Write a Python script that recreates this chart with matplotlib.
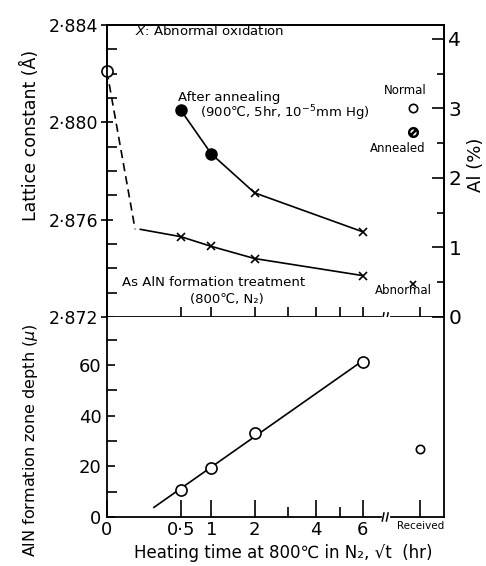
import numpy as np
import matplotlib
matplotlib.use("Agg")
import matplotlib.pyplot as plt

plt.rcParams['font.family'] = ['DejaVu Sans']

# ---------------- data ----------------
# x axis is sqrt(heating time in hr)
tick_hours = [0, 0.5, 1, 2, 3, 4, 5, 6]
tick_labels = ['0', '0·5', '1', '2', '', '4', '', '6']
received_pos = 3.0           # sqrt-scale position of the "Received" column
received_label = 'Received'

# Lattice constant (Å) – As AlN formation treatment (800°C, N2)
aln_hours = [0.5, 1, 2, 6]
aln_lattice = [2.8753, 2.8749, 2.8744, 2.8737]
# start of the solid line (no marker) and the dashed drop from the untreated value
aln_start_sqrt = 0.32
aln_start_lattice = 2.8756
dash_sqrt = [0.0, 0.27]
dash_lattice = [2.8821, 2.8756]
initial_lattice = 2.8821

# Lattice constant (Å) – After annealing (900°C, 5hr, 1e-5 mmHg)
ann_hours = [0.5, 1, 2, 6]
ann_lattice = [2.8805, 2.8787, 2.8771, 2.8755]
ann_filled = [True, True, False, False]   # False -> abnormal oxidation (x)

# Al (%) of received material
al_normal = 3.0
al_annealed = 2.66
al_abnormal = 0.48
al_pos = 2.93

# AlN formation zone depth (micron)
depth_hours = [0.5, 1, 2, 6]
depth_vals = [10.8, 19.2, 33.2, 61.2]
depth_received = 26.8
fit_start_sqrt = 0.45

# ---------------- figure ----------------
fig = plt.figure(figsize=(4.86, 5.66), dpi=100)
ax1 = fig.add_axes([0.220, 0.440, 0.694, 0.516])
ax2 = fig.add_axes([0.220, 0.0866, 0.694, 0.3534])
ax1r = ax1.twinx()

xmax = 3.23
brk_a, brk_b = 2.62, 2.72
for ax in (ax1, ax2):
    ax.set_xlim(0, xmax)
    for s in ax.spines.values():
        s.set_linewidth(1.3)

lw = 1.2
tick_pos = list(np.sqrt(tick_hours)) + [received_pos]

# ---- top panel ----
ax1.set_ylim(2.872, 2.884)
ax1r.set_ylim(0, 4.2)

ax1.plot(dash_sqrt, dash_lattice, '--', color='k', lw=lw, dashes=(5, 3))
ax1.plot([aln_start_sqrt] + list(np.sqrt(aln_hours)),
         [aln_start_lattice] + aln_lattice, '-', color='k', lw=lw)
ax1.plot(np.sqrt(aln_hours), aln_lattice, 'x', color='k', ms=6, mew=1.2)
ax1.plot([0], [initial_lattice], 'o', ms=8, mfc='white', mec='k', mew=1.2,
         clip_on=False, zorder=5)

ax1.plot(np.sqrt(ann_hours), ann_lattice, '-', color='k', lw=lw)
fx = [np.sqrt(h) for h, f in zip(ann_hours, ann_filled) if f]
fy = [v for v, f in zip(ann_lattice, ann_filled) if f]
xx = [np.sqrt(h) for h, f in zip(ann_hours, ann_filled) if not f]
xy = [v for v, f in zip(ann_lattice, ann_filled) if not f]
ax1.plot(fx, fy, 'o', color='k', ms=8)
ax1.plot(xx, xy, 'x', color='k', ms=6, mew=1.2)

ax1r.plot([al_pos], [al_normal], 'o', ms=6, mfc='white', mec='k', mew=1.2)
ax1r.plot([al_pos], [al_annealed], marker=r'$\oslash$', ms=7, color='k', ls='none')
ax1r.plot([al_pos], [al_abnormal], 'x', ms=4, mew=1.2, color='k')

# axes styling
ax1.set_yticks([2.872, 2.876, 2.880, 2.884])
ax1.set_yticklabels(['2·872', '2·876', '2·880', '2·884'], fontsize=12.5)
ax1.set_yticks(np.arange(2.872, 2.8845, 0.001), minor=True)
ax1.tick_params(axis='y', which='major', direction='inout', length=9, width=1.2, pad=2)
ax1.tick_params(axis='y', which='minor', direction='in', length=7, width=1.2)
ax1.set_xticks(tick_pos)
ax1.set_xticklabels([])
ax1.tick_params(axis='x', which='major', direction='in', length=7, width=1.2)
ax1.spines['bottom'].set_visible(False)

ax1r.set_yticks([0, 1, 2, 3, 4])
ax1r.set_yticklabels(['0', '1', '2', '3', '4'], fontsize=14.5)
ax1r.set_yticks(np.arange(0.5, 4.5, 1.0), minor=True)
ax1r.tick_params(axis='y', which='major', direction='in', length=9, width=1.2, pad=3)
ax1r.tick_params(axis='y', which='minor', direction='in', length=5, width=1.2)
ax1r.spines['bottom'].set_visible(False)
for s in ax1r.spines.values():
    s.set_linewidth(1.3)

# ---- bottom panel ----
ax2.set_ylim(0, 79)
ax2.plot(np.sqrt(depth_hours), depth_vals, 'o', ms=8, mfc='white', mec='k', mew=1.2,
         zorder=5, clip_on=False)
coef = np.polyfit(np.sqrt(depth_hours), depth_vals, 1)
fit_x = np.array([fit_start_sqrt, np.sqrt(depth_hours[-1])])
ax2.plot(fit_x, np.polyval(coef, fit_x), '-', color='k', lw=lw)
ax2.plot([received_pos], [depth_received], 'o', ms=6, mfc='white', mec='k', mew=1.2)

ax2.set_yticks([0, 20, 40, 60])
ax2.set_yticklabels(['0', '20', '40', '60'], fontsize=13)
ax2.set_yticks([10, 30, 50, 70], minor=True)
ax2.tick_params(axis='y', which='major', direction='in', length=6, width=1.2, pad=4)
ax2.tick_params(axis='y', which='minor', direction='in', length=7, width=1.2)
ax2.set_xticks(tick_pos)
ax2.set_xticklabels(tick_labels + [received_label], fontsize=13)
ax2.get_xticklabels()[-1].set_fontsize(7.5)
ax2.tick_params(axis='x', which='major', direction='in', length=12, width=1.2, pad=3)
for i, t in enumerate(ax2.xaxis.get_major_ticks()):
    if tick_labels[i:i + 1] == ['']:
        t.tick1line.set_markersize(7)
ax2.spines['top'].set_visible(False)
ax2.spines['bottom'].set_visible(False)

# broken x axis lines
for ax, h in ((ax1, 0.014), (ax2, 0.02)):
    tr = ax.get_xaxis_transform()
    ax.plot([0, brk_a], [0, 0], color='k', lw=1.3, transform=tr, clip_on=False)
    ax.plot([brk_b, xmax], [0, 0], color='k', lw=1.3, transform=tr, clip_on=False)
    for bx in (brk_a + 0.025, brk_a + 0.065):
        ax.plot([bx - 0.008, bx + 0.008], [-h, h], color='k', lw=1.1,
                transform=tr, clip_on=False)

# ---- annotations (figure pixel coords) ----
W, H = 486.0, 566.0
def ftext(x, y, s, **kw):
    fig.text(x / W, 1 - y / H, s, **kw)

ftext(135, 31, r'$\mathbf{\mathit{X}}$: Abnormal oxidation', fontsize=9.5, va='center')
ftext(178, 97, 'After annealing', fontsize=9.5, va='center')
ftext(200, 113, '(900℃, 5hr, 10$^{-5}$mm Hg)', fontsize=9.5, va='center')
ftext(405, 91, 'Normal', fontsize=8.5, va='center', ha='center')
ftext(398, 149, 'Annealed', fontsize=8.5, va='center', ha='center')
ftext(403, 291, 'Abnormal', fontsize=8.5, va='center', ha='center')
ftext(122, 283, 'As AlN formation treatment', fontsize=9.5, va='center')
ftext(190, 299, '(800℃, N₂)', fontsize=9.5, va='center')

ftext(30, 135, 'Lattice constant (Å)', fontsize=12.5, rotation=90, va='center', ha='center')
ftext(476, 165, 'Al (%)', fontsize=13, rotation=90, va='center', ha='center')
ftext(30, 440, r'AlN formation zone depth ($\mu$)', fontsize=11.5, rotation=90,
      va='center', ha='center')
ftext(283, 553, 'Heating time at 800℃ in N₂, √t  (hr)', fontsize=12,
      va='center', ha='center')

fig.savefig('out.png', dpi=100)
